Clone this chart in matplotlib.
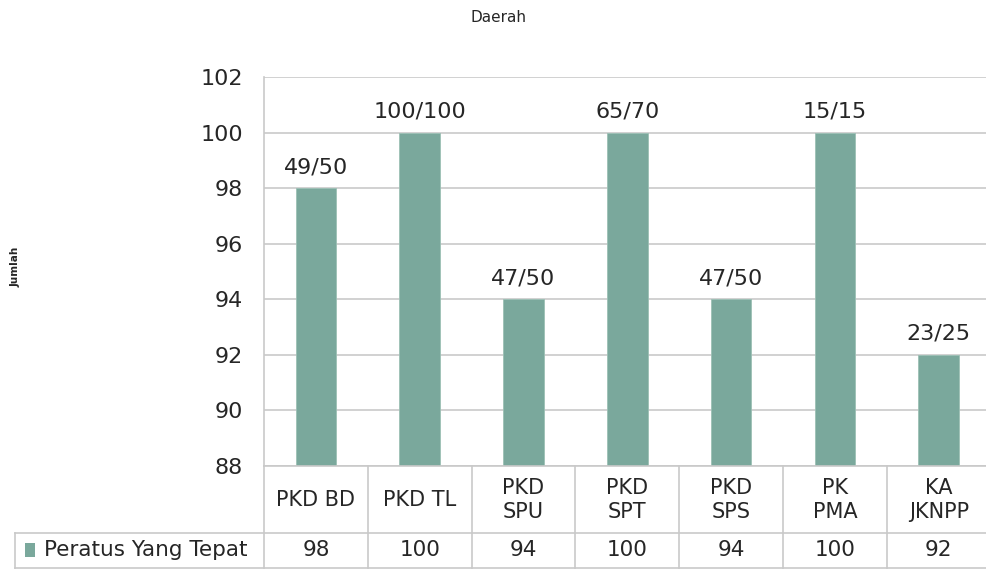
import matplotlib
matplotlib.use("Agg")
import matplotlib.pyplot as plt
from matplotlib.lines import Line2D
from matplotlib.patches import Rectangle
from matplotlib.transforms import blended_transform_factory

categories = ["PKD BD", "PKD TL", "PKD\nSPU", "PKD\nSPT", "PKD\nSPS", "PK\nPMA", "KA\nJKNPP"]
values = [98, 100, 94, 100, 94, 100, 92]
bar_labels = ["49/50", "100/100", "47/50", "65/70", "47/50", "15/15", "23/25"]
table_values = ["98", "100", "94", "100", "94", "100", "92"]
series_name = "Peratus Yang Tepat"
yticks = [88, 90, 92, 94, 96, 98, 100, 102]

plt.rcParams['font.family'] = ['DejaVu Sans']
W, H = 987, 570
fig = plt.figure(figsize=(W / 100, H / 100), dpi=100)
bar_color = "#7AA89C"
grid_color = "#C9C9C9"
text_color = "#262626"

left, right, top, bottom = 264, 990.6, 77, 466
ax = fig.add_axes([left / W, 1 - bottom / H, (right - left) / W, (bottom - top) / H])
x = list(range(len(categories)))
ax.bar(x, values, width=0.39, color=bar_color, edgecolor="#9CC0B5", linewidth=0.6, zorder=3)
ax.set_xlim(-0.5, len(categories) - 0.5)
ax.set_ylim(88, 102)
ax.set_yticks(yticks)
ax.set_yticklabels([str(t) for t in yticks], fontsize=16, color=text_color)
ax.tick_params(axis='y', length=0, pad=15)
ax.set_xticks([])
ax.grid(axis='y', color=grid_color, linewidth=1.2, zorder=0)
for s in ["top", "right", "bottom"]:
    ax.spines[s].set_visible(False)
ax.spines["left"].set_color(grid_color)
ax.spines["left"].set_linewidth(1.2)

for xi, v, lab in zip(x, values, bar_labels):
    ax.annotate(lab, (xi, v), xytext=(0, 8), textcoords="offset points",
                ha="center", va="bottom", fontsize=16, color=text_color)

# data table
tr = blended_transform_factory(ax.transData, fig.transFigure)
fy = lambda py: 1 - py / H
fx = lambda px: px / W
row1_top, row1_bot, row2_bot = 466, 532.5, 568
lw = 1.2
for b in [i - 0.5 for i in range(len(categories) + 1)]:
    fig.add_artist(Line2D([b, b], [fy(row1_top), fy(row2_bot)], transform=tr, color=grid_color, lw=lw))
fig.add_artist(Line2D([-0.5, len(categories) - 0.5], [fy(row1_top)] * 2, transform=tr, color=grid_color, lw=lw))
for yy in [row1_bot, row2_bot]:
    fig.add_artist(Line2D([fx(15), fx(right)], [fy(yy)] * 2, transform=fig.transFigure, color=grid_color, lw=lw))
fig.add_artist(Line2D([fx(15), fx(15)], [fy(row1_bot), fy(row2_bot)], transform=fig.transFigure, color=grid_color, lw=lw))

for xi, c, tv in zip(x, categories, table_values):
    fig.text(xi, fy((row1_top + row1_bot) / 2 + 1), c, transform=tr, ha="center", va="center",
             fontsize=15, color=text_color, linespacing=1.25)
    fig.text(xi, fy((row1_bot + row2_bot) / 2), tv, transform=tr, ha="center", va="center",
             fontsize=15.5, color=text_color)

fig.add_artist(Rectangle((fx(25), fy(557)), fx(10), 14 / H, transform=fig.transFigure,
                         facecolor=bar_color, edgecolor="none"))
fig.text(fx(44), fy((row1_bot + row2_bot) / 2), series_name, ha="left", va="center",
         fontsize=15.5, color=text_color)

fig.text(fx(499), 1 - 17 / H, "Daerah", ha="center", va="center", fontsize=11, color=text_color)
fig.text(fx(16), fy(267), "Jumlah", ha="center", va="center", rotation=90, fontsize=7.5,
         fontweight="bold", color=text_color)

fig.savefig("out.png", dpi=100)
